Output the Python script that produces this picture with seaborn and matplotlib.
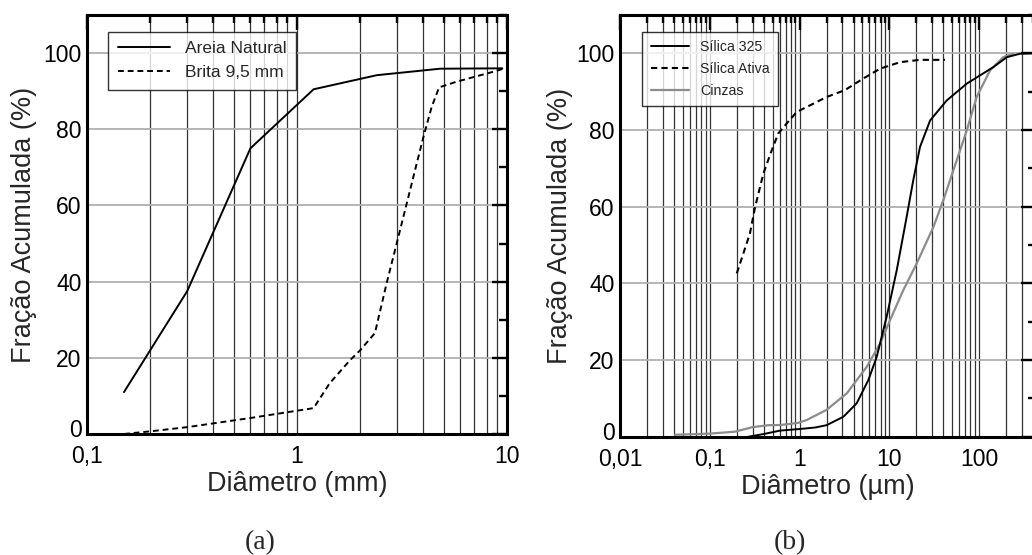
import matplotlib
matplotlib.use("Agg")
import matplotlib.pyplot as plt
import seaborn as sns
import pandas as pd
from matplotlib.ticker import FuncFormatter, LogLocator, MultipleLocator, NullFormatter, FixedLocator
from matplotlib.transforms import ScaledTranslation

# ---------------- data (a) ----------------
areia_x = [0.15, 0.3, 0.6, 1.2, 2.4, 4.8, 9.5]
areia_y = [11, 37.5, 75, 90.5, 94.2, 95.9, 96]
brita_x = [0.15, 0.2, 0.3, 0.6, 1.2, 1.43, 1.79, 2.0, 2.35, 2.67, 2.93, 3.33, 3.65, 4.0, 4.38, 4.75, 5.76, 8.6, 9.5]
brita_y = [0, 0.7, 1.8, 4.2, 6.8, 13.3, 19.4, 22, 26.5, 39.5, 48.3, 60.5, 69.3, 78, 85.9, 91, 92.5, 95.1, 95.8]

# ---------------- data (b) ----------------
s325_x = [0.27, 0.4, 0.61, 1.0, 1.5, 2.0, 3.08, 4.33, 5.85, 7.24, 9.35, 12.1, 15.6, 18.5, 22, 28.5,
          43.6, 73, 144, 204, 286, 430]
s325_y = [0, 0.7, 1.6, 2.0, 2.4, 3.0, 5.2, 8.7, 14.8, 20.8, 31.3, 43.4, 57.3, 66.9, 75.6, 82.5,
          87.7, 92.1, 96.4, 99.0, 99.9, 100]
sativa_x = [0.2, 0.28, 0.32, 0.395, 0.49, 0.58, 0.69, 0.93, 2.0, 3.2, 5.1, 7.9, 13.2, 22, 41.7]
sativa_y = [42.6, 53, 59.9, 68.6, 74.7, 79.1, 81.2, 84.7, 88.6, 90.4, 93.4, 96, 97.7, 98.3, 98.3]
cinzas_x = [0.041, 0.1, 0.19, 0.3, 0.45, 0.61, 0.96, 1.2, 2.0, 3.36, 5.6, 7.9, 10.2, 14.3, 20.2,
            31, 40, 47.5, 73, 94, 133, 186, 240]
cinzas_y = [0.5, 0.8, 1.3, 2.5, 3.0, 3.05, 3.6, 4.35, 7.0, 11.3, 18.2, 24.3, 30.4, 38.2, 45.2,
            54.7, 61.7, 66.9, 79.9, 88.6, 95.6, 99.0, 99.9]

yticks = [0, 20, 40, 60, 80, 100]

sns.set_style("white")
plt.rcParams["font.family"] = ["Liberation Sans", "DejaVu Sans"]

W, H = 1032, 555
fig = plt.figure(figsize=(W / 100, H / 100), dpi=100)

def px_axes(l, t, r, b):
    return fig.add_axes([l / W, 1 - b / H, (r - l) / W, (b - t) / H])

ax1 = px_axes(87, 15, 507, 434)
ax2 = px_axes(620, 15, 1036, 436.7)

dash = (0, (3, 2))

df_a1 = pd.DataFrame({"x": areia_x, "y": areia_y})
df_a2 = pd.DataFrame({"x": brita_x, "y": brita_y})
sns.lineplot(data=df_a1, x="x", y="y", ax=ax1, color="black", lw=1.4, label="Areia Natural", zorder=5)
sns.lineplot(data=df_a2, x="x", y="y", ax=ax1, color="black", lw=1.4, linestyle=dash, label="Brita 9,5 mm", zorder=5)

df_b1 = pd.DataFrame({"x": s325_x, "y": s325_y})
df_b2 = pd.DataFrame({"x": sativa_x, "y": sativa_y})
df_b3 = pd.DataFrame({"x": cinzas_x, "y": cinzas_y})
sns.lineplot(data=df_b3, x="x", y="y", ax=ax2, color="#8c8c8c", lw=1.6, label="Cinzas", zorder=4)
sns.lineplot(data=df_b1, x="x", y="y", ax=ax2, color="black", lw=1.4, label="Sílica 325", zorder=5)
sns.lineplot(data=df_b2, x="x", y="y", ax=ax2, color="black", lw=1.5, linestyle=dash, label="Sílica Ativa", zorder=5)

fmt = FuncFormatter(lambda v, p: f"{v:g}".replace(".", ","))

def style(ax, xlim, xlabel, ylab_off):
    ax.set_xscale("log")
    ax.set_xlim(*xlim)
    ax.set_ylim(0, 110)
    ax.yaxis.set_major_locator(FixedLocator(yticks))
    ax.yaxis.set_minor_locator(MultipleLocator(10))
    ax.xaxis.set_major_locator(LogLocator(base=10, numticks=20))
    ax.xaxis.set_minor_locator(LogLocator(base=10, subs=range(2, 10), numticks=100))
    ax.xaxis.set_major_formatter(fmt)
    ax.xaxis.set_minor_formatter(NullFormatter())
    ax.grid(which="both", axis="x", color="#333333", lw=0.9, zorder=1)
    ax.grid(which="major", axis="y", color="#b0b0b0", lw=1.3, zorder=1)
    ax.set_axisbelow(True)
    ax.tick_params(which="both", direction="in", top=True, right=True, width=1.7, colors="black")
    ax.tick_params(which="major", length=11, labelsize=16.5)
    ax.tick_params(which="minor", length=6)
    ax.tick_params(axis="x", which="major", pad=8)
    ax.tick_params(axis="y", which="major", pad=4)
    for s in ax.spines.values():
        s.set_linewidth(2.2)
        s.set_color("black")
    ax.set_xlabel(xlabel, fontsize=19.5, labelpad=2)
    ax.set_ylabel("Fração Acumulada (%)", fontsize=19.5)
    ax.yaxis.set_label_coords(-ylab_off / (ax.get_position().width * W), 0.5)

style(ax1, (0.1, 10), "Diâmetro (mm)", 50)
style(ax2, (0.01, 431), "Diâmetro (µm)", 47)

leg1 = ax1.legend(loc="upper left", bbox_to_anchor=(0.05, 0.96), borderaxespad=0,
                  fontsize=12.5, frameon=True, fancybox=False, edgecolor="black",
                  handlelength=3.0, handletextpad=0.9, borderpad=0.55, labelspacing=0.5)
leg1.get_frame().set_linewidth(1.0)
leg1.set_zorder(10)

h, l = ax2.get_legend_handles_labels()
order = [1, 2, 0]
leg2 = ax2.legend([h[i] for i in order], [l[i] for i in order], loc="upper left",
                  bbox_to_anchor=(0.053, 0.96), borderaxespad=0,
                  fontsize=10.2, frameon=True, fancybox=False, edgecolor="black",
                  handlelength=2.7, handletextpad=0.8, borderpad=0.6, labelspacing=0.55)
leg2.get_frame().set_linewidth(1.0)
leg2.set_zorder(10)

fig.text(260 / W, 1 - 543 / H, "(a)", ha="center", va="center", fontsize=20,
         family=["Liberation Serif", "DejaVu Serif"])
fig.text(790 / W, 1 - 543 / H, "(b)", ha="center", va="center", fontsize=20,
         family=["Liberation Serif", "DejaVu Serif"])

# lift the "0" y tick label slightly so it clears the x tick labels
fig.canvas.draw()
for ax in (ax1, ax2):
    t0 = ax.yaxis.get_major_ticks()[0]
    t0.label1.set_transform(t0.label1.get_transform() + ScaledTranslation(0, 4 / 72, fig.dpi_scale_trans))

fig.savefig("out.png", dpi=100, facecolor="white")
